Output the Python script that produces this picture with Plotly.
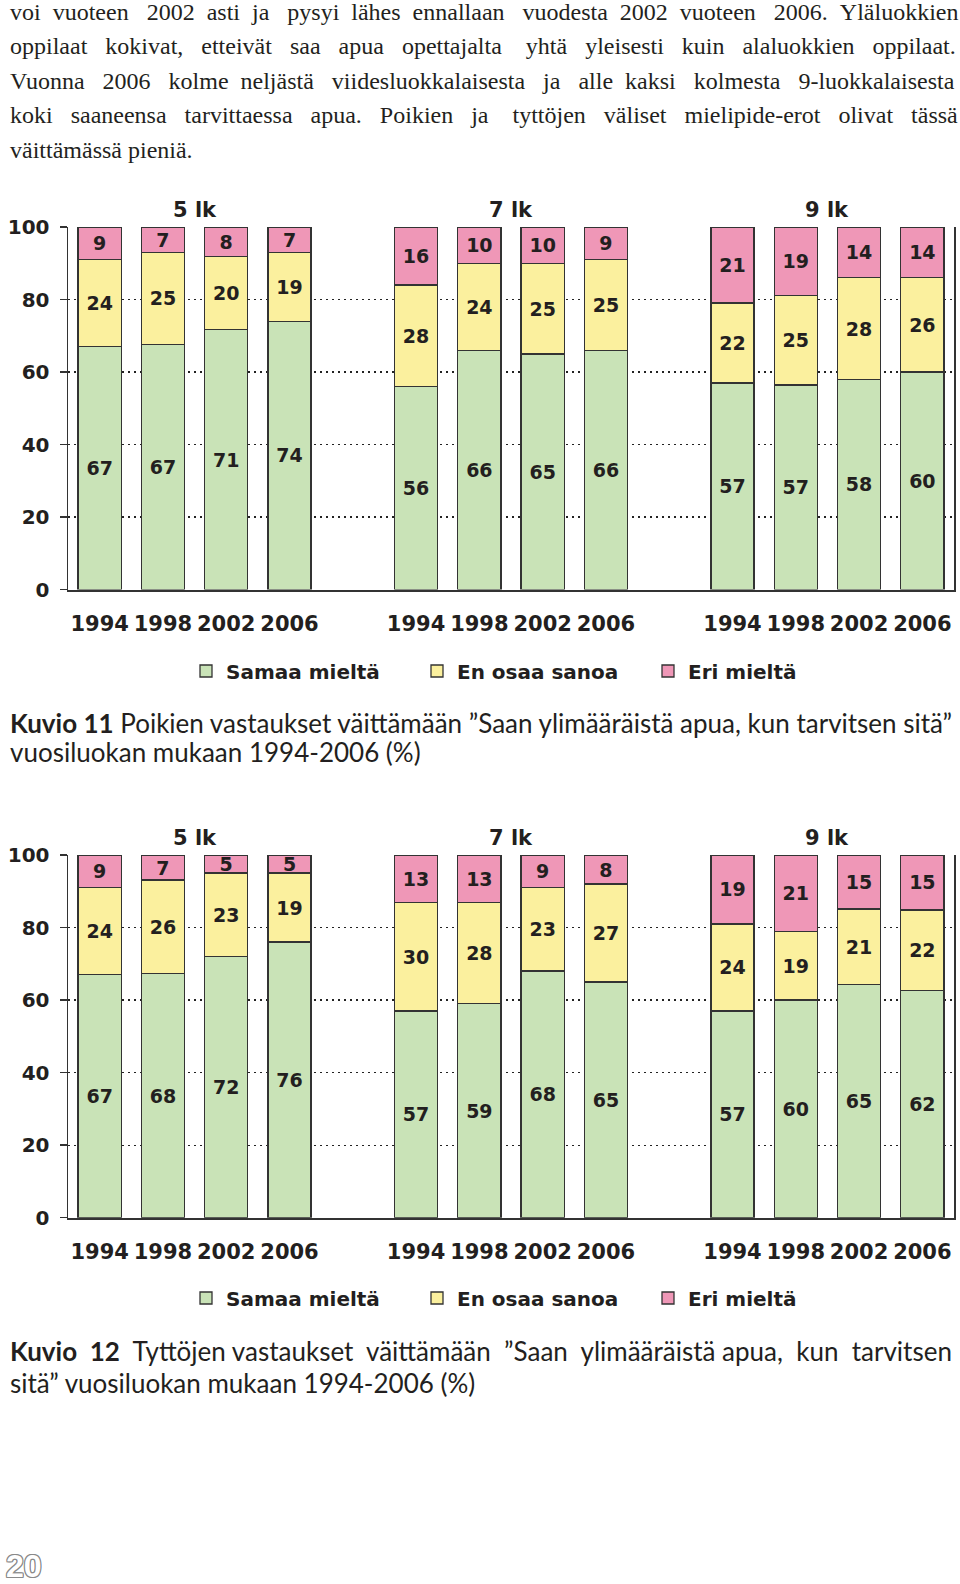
import plotly.graph_objects as go

# ---------------- data ----------------
grades = ["5 lk", "7 lk", "9 lk"]
years = ["1994", "1998", "2002", "2006"]
series = ["Samaa mieltä", "En osaa sanoa", "Eri mieltä"]
colors = ["#c9e3b7", "#fbf09e", "#ef97b7"]

# Kuvio 11 (boys): per grade, per year
boys_samaa = [67, 67, 71, 74, 56, 66, 65, 66, 57, 57, 58, 60]
boys_en    = [24, 25, 20, 19, 28, 24, 25, 25, 22, 25, 28, 26]
boys_eri   = [9, 7, 8, 7, 16, 10, 10, 9, 21, 19, 14, 14]

# Kuvio 12 (girls)
girls_samaa = [67, 68, 72, 76, 57, 59, 68, 65, 57, 60, 65, 62]
girls_en    = [24, 26, 23, 19, 30, 28, 23, 27, 24, 19, 21, 22]
girls_eri   = [9, 7, 5, 5, 13, 13, 9, 8, 19, 21, 15, 15]

body_lines = [
    "voi vuoteen 2002 asti ja pysyi lähes ennallaan vuodesta 2002 vuoteen 2006. Yläluokkien",
    "oppilaat kokivat, etteivät saa apua opettajalta yhtä yleisesti kuin alaluokkien oppilaat.",
    "Vuonna 2006 kolme neljästä viidesluokkalaisesta ja alle kaksi kolmesta 9-luokkalaisesta",
    "koki saaneensa tarvittaessa apua. Poikien ja tyttöjen väliset mielipide-erot olivat tässä",
    "väittämässä pieniä.",
]
# extra non-breaking spaces used to justify each body line (last line not justified)
body_extra = [16, 21, 16, 21, 0]

caption1 = ["<b>Kuvio 11</b> Poikien vastaukset väittämään ”Saan ylimääräistä apua, kun tarvitsen sitä”",
            "vuosiluokan mukaan 1994-2006 (%)"]
caption2 = ["<b>Kuvio 12</b> Tyttöjen vastaukset väittämään ”Saan ylimääräistä apua, kun tarvitsen",
            "sitä” vuosiluokan mukaan 1994-2006 (%)"]
caption1_extra = [0, 0]
caption2_extra = [7, 0]
page_number = "20"

# ---------------- helpers ----------------
W, H = 960, 1584
TXT = "#231f20"
AX = "#333333"
BOLD = dict(family="DejaVu Sans", size=20, color=TXT, weight="bold")
NBSP = "\u00a0"

def justify(line, extra):
    words = line.split(" ")
    gaps = len(words) - 1
    if gaps <= 0 or extra <= 0:
        return line
    out = words[0]
    given = 0
    for i in range(1, len(words)):
        target = round(extra * i / gaps)
        n = target - given
        given = target
        out += " " + NBSP * n + words[i]
    return out

positions = [g * 5 + i for g in range(len(grades)) for i in range(len(years))]
tick_text = [y for g in grades for y in years]

def py(px):
    return 1 - px / H

fig = go.Figure()

charts = [
    (dict(samaa=boys_samaa, en=boys_en, eri=boys_eri), "x", "y", "legend"),
    (dict(samaa=girls_samaa, en=girls_en, eri=girls_eri), "x2", "y2", "legend2"),
]
for data, xa, ya, lg in charts:
    vals = [data["samaa"], data["en"], data["eri"]]
    totals = [sum(v[k] for v in vals) for k in range(len(positions))]
    for s, name in enumerate(series):
        heights = [vals[s][k] / totals[k] * 100 for k in range(len(positions))]
        fig.add_trace(go.Bar(
            x=positions, y=heights, name=name, xaxis=xa, yaxis=ya, legend=lg,
            width=0.68,
            marker=dict(color=colors[s], line=dict(color=AX, width=1.3)),
            text=[str(v) for v in vals[s]], textposition="inside",
            insidetextanchor="middle", textangle=0, constraintext="none",
            textfont=dict(family="DejaVu Sans", size=19, color=TXT, weight="bold"),
            hoverinfo="skip",
        ))

dom_x = [68 / W, 954 / W]
ydoms = [[py(589.5), py(227)], [py(1217.7), py(855)]]

def xaxis_cfg():
    return dict(domain=dom_x, range=[-0.5, 13.5], tickvals=positions, ticktext=tick_text,
                showline=True, linecolor=AX, linewidth=2, ticks="", showgrid=False,
                zeroline=False, tickfont=dict(BOLD, size=21), ticklabelstandoff=14,
                automargin=False, fixedrange=True)

def yaxis_cfg(dom):
    return dict(domain=dom, range=[0, 100], tickvals=[0, 20, 40, 60, 80, 100],
                showline=True, linecolor=AX, linewidth=1.5, mirror=True,
                ticks="outside", ticklen=7, tickcolor=AX, tickwidth=1.5,
                showgrid=True, gridcolor="#222222", gridwidth=1.2, griddash="2px,4px",
                zeroline=False, tickfont=BOLD, ticklabelstandoff=6,
                automargin=False, fixedrange=True)

legend_common = dict(orientation="h", xanchor="left", yanchor="middle",
                     font=dict(family="DejaVu Sans", size=20, color=TXT, weight="bold"),
                     itemwidth=30, entrywidth=186, entrywidthmode="pixels",
                     bgcolor="rgba(0,0,0,0)", traceorder="normal",
                     itemclick=False, itemdoubleclick=False)

fig.update_layout(
    width=W, height=H, margin=dict(l=0, r=0, t=0, b=0, autoexpand=False),
    paper_bgcolor="white", plot_bgcolor="white",
    barmode="stack", bargap=0,
    xaxis=dict(xaxis_cfg(), anchor="y"),
    yaxis=dict(yaxis_cfg(ydoms[0]), anchor="x"),
    xaxis2=dict(xaxis_cfg(), anchor="y2"),
    yaxis2=dict(yaxis_cfg(ydoms[1]), anchor="x2"),
    legend=dict(legend_common, x=186 / W, y=py(671)),
    legend2=dict(legend_common, x=186 / W, y=py(1298)),
    showlegend=True,
)

ann = []
# group labels
for xa, ya in [("x", "y"), ("x2", "y2")]:
    for g, name in enumerate(grades):
        ann.append(dict(text=name, x=g * 5 + 1.5, y=100, xref=xa, yref=ya,
                        xanchor="center", yanchor="bottom", yshift=3, showarrow=False,
                        font=dict(family="DejaVu Sans", size=21, color=TXT, weight="bold")))

# body text
body_centers = [12, 46.5, 81, 115.3, 149.6]
for line, extra, cy in zip(body_lines, body_extra, body_centers):
    ann.append(dict(text=justify(line, extra), x=8 / W, y=py(cy), xref="paper", yref="paper",
                    xanchor="left", yanchor="middle", showarrow=False,
                    font=dict(family="Liberation Serif", size=24, color=TXT)))

# captions
for lines, extras, centers in [(caption1, caption1_extra, [722.5, 752]),
                               (caption2, caption2_extra, [1351, 1383])]:
    for line, extra, cy in zip(lines, extras, centers):
        ann.append(dict(text=justify(line, extra), x=8 / W, y=py(cy), xref="paper", yref="paper",
                        xanchor="left", yanchor="middle", showarrow=False,
                        font=dict(family="Lato", size=26, color=TXT)))

# page number (outlined)
ann.append(dict(text="<b>" + page_number + "</b>", x=4 / W, y=py(1566), xref="paper", yref="paper",
                xanchor="left", yanchor="middle", showarrow=False,
                font=dict(family="Liberation Sans", size=32, color="white",
                          shadow="-1px -1px 0 #8a8a8a, 1px -1px 0 #8a8a8a, -1px 1px 0 #8a8a8a, 1px 1px 0 #8a8a8a, 0 1px 0 #8a8a8a, 1px 0 0 #8a8a8a, 0 -1px 0 #8a8a8a, -1px 0 0 #8a8a8a")))

fig.update_layout(annotations=ann)

fig.write_html("out.html", config={"displayModeBar": False, "staticPlot": True},
               post_script="document.body.style.margin='0';document.body.style.overflow='hidden';")
